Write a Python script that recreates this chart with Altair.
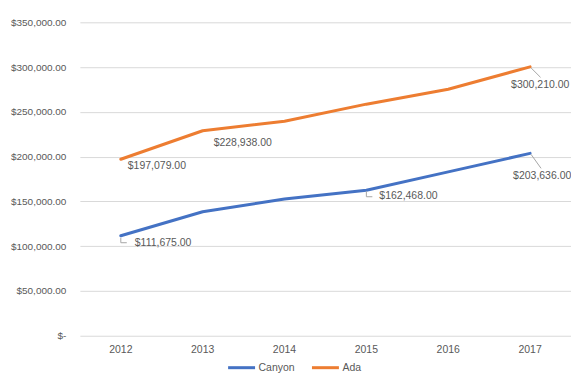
import altair as alt
import pandas as pd

years = ["2012", "2013", "2014", "2015", "2016", "2017"]
canyon = [111675, 138500, 152700, 162468, 183000, 203636]
ada = [197079, 228938, 239600, 258600, 275300, 300210]
series = ["Canyon", "Ada"]
colors = ["#4472C4", "#ED7D31"]
y_ticks = [0, 50000, 100000, 150000, 200000, 250000, 300000, 350000]

rows = []
for s, vals in zip(series, [canyon, ada]):
    for yr, v in zip(years, vals):
        rows.append({"series": s, "year": yr, "value": v})
df = pd.DataFrame(rows)

FONT = "Liberation Sans"
TXT = "#595959"
GRID = "#d9d9d9"
LEAD = "#a6a6a6"

x_enc = alt.X("year:N", sort=years, title=None,
              axis=alt.Axis(labelAngle=0, ticks=False, domain=False, grid=False,
                            labelPadding=9, labelFont=FONT, labelFontSize=10.5,
                            labelColor=TXT))
y_enc = alt.Y("value:Q", title=None,
              scale=alt.Scale(domain=[0, 350000], nice=False, zero=True),
              axis=alt.Axis(values=y_ticks, ticks=False, domain=False, grid=True,
                            gridColor=GRID, gridWidth=1, labelPadding=14,
                            labelFont=FONT, labelFontSize=10, labelColor=TXT,
                            labelExpr="datum.value == 0 ? '$-' : format(datum.value, '$,.2f')"))

base = alt.Chart(df)

lines = base.mark_line(strokeWidth=3, strokeCap="round", strokeJoin="round").encode(
    x=x_enc,
    y=y_enc,
    color=alt.Color("series:N",
                    scale=alt.Scale(domain=series, range=colors),
                    sort=series,
                    legend=alt.Legend(title=None, orient="none", direction="horizontal",
                                      legendX=147, legendY=331,
                                      symbolType="stroke", symbolSize=729,
                                      symbolStrokeWidth=3, labelFont=FONT,
                                      labelFontSize=10.5, labelColor=TXT,
                                      labelOffset=2, columnPadding=10)),
)

def pick(s, yr):
    return base.transform_filter(
        (alt.datum.series == s) & (alt.datum.year == yr))

label_specs = [
    ("Canyon", "2012", 14, 7),
    ("Canyon", "2015", 13, 6),
    ("Canyon", "2017", -17, 23),
    ("Ada", "2012", 7, 6.5),
    ("Ada", "2013", 11, 12),
    ("Ada", "2017", -19, 18),
]

layers = [lines]
for s, yr, dx, dy in label_specs:
    layers.append(
        pick(s, yr).mark_text(align="left", baseline="middle", dx=dx, dy=dy,
                              font=FONT, fontSize=10.5, color=TXT).encode(
            x=alt.X("year:N", sort=years),
            y="value:Q",
            text=alt.Text("value:Q", format="$,.2f"),
        )
    )

leader_specs = [
    ("Canyon", "2012", 0, 2, 0, 7),
    ("Canyon", "2012", 0, 7, 6, 7),
    ("Canyon", "2015", 0, 1, 0, 6.5),
    ("Canyon", "2015", 0, 6.5, 6, 6.5),
    ("Canyon", "2017", 1, 1, 11, 15),
    ("Ada", "2017", 1, 1, 10.5, 10.5),
]
for s, yr, x0, y0, x1, y1 in leader_specs:
    layers.append(
        pick(s, yr).mark_rule(color=LEAD, strokeWidth=1,
                              xOffset=x0, yOffset=y0,
                              x2Offset=x1, y2Offset=y1).encode(
            x=alt.X("year:N", sort=years),
            x2="year:N",
            y="value:Q",
            y2="value:Q",
        )
    )

chart = alt.layer(*layers).properties(
    width=492, height=314,
    padding={"left": 72, "top": 14, "right": 0, "bottom": 42},
    autosize=alt.AutoSizeParams(type="none"),
    background="white",
).configure_view(stroke=None)

chart.save("out.html", embed_options={"renderer": "svg", "actions": False})
